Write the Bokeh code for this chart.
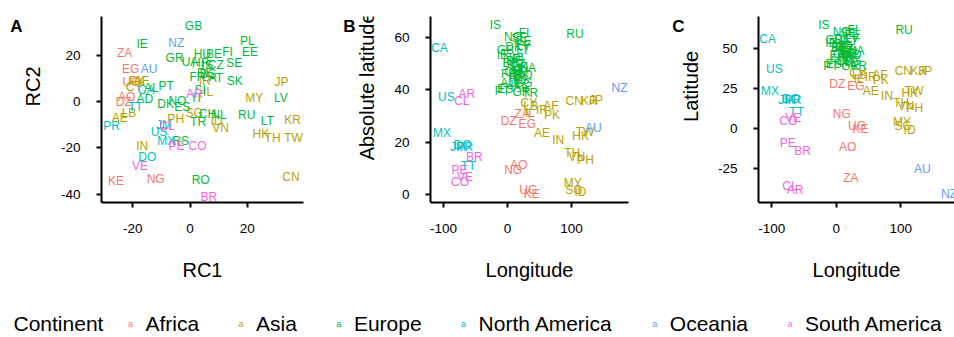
import numpy as np
from bokeh.plotting import figure
from bokeh.models import ColumnDataSource, FixedTicker, Range1d
from bokeh.layouts import row, column
from bokeh.embed import file_html
from bokeh.resources import INLINE
from bokeh.core.properties import value

# ---------------- data ----------------
codes = ["ZA", "EG", "UG", "AO", "DZ", "KE", "NG",
         "PK", "CY", "AF", "IR", "IL", "SG", "PH", "ID", "VN", "MY", "JP", "KR", "HK", "TH", "TW", "CN", "IN", "AE", "LB",
         "GB", "IE", "GR", "UA", "HU", "BE", "FI", "PL", "EE", "SE", "HR", "CZ", "IS", "FR", "DE", "BG", "AT", "SK",
         "AL", "PT", "SI", "IT", "AD", "DK", "NO", "ES", "CH", "NL", "TR", "RU", "LT", "LV", "RS", "RO",
         "CA", "TT", "PR", "JM", "US", "MX", "DO",
         "NZ", "AU",
         "AR", "CL", "PE", "CO", "VE", "BR"]
continent = (["Africa"] * 7 + ["Asia"] * 19 + ["Europe"] * 34 + ["North America"] * 7
             + ["Oceania"] * 2 + ["South America"] * 6)
rc1 = [-22.8, -20.7, -20.4, -22.1, -23.1, -25.8, -12.0,
       -18.4, -19.5, -17.0, 5.1, 6.3, 1.4, -5.0, 9.3, 10.7, 22.4, 31.9, 35.8, 24.7, 28.8, 36.1, 35.2, -16.7, -24.5, -21.3,
       1.2, -16.7, -5.4, 0.0, 4.3, 8.4, 13.1, 20.0, 20.9, 15.4, 3.7, 9.0, 6.0, 2.6, 5.3, 6.3, 9.0, 15.6,
       -13.5, -8.3, 3.5, 2.6, -15.8, -8.5, -4.4, -2.7, 6.1, 10.1, 2.8, 19.8, 27.0, 31.7, -3.3, 3.7,
       -15.3, -19.0, -27.4, -9.1, -10.8, -8.3, -14.9,
       -4.8, -14.3,
       1.6, -8.0, -4.7, 2.6, -17.5, 6.6]
rc2 = [21.0, 13.9, 8.6, 2.1, 0.0, -34.3, -33.3,
       8.9, 6.5, 9.0, 8.9, 4.3, -4.7, -7.6, -8.3, -11.4, 1.4, 8.4, -7.9, -14.0, -15.9, -15.9, -32.6, -19.0, -6.9, -5.1,
       32.4, 24.9, 18.9, 17.1, 20.6, 20.6, 21.3, 26.0, 21.4, 16.6, 16.6, 16.0, 15.8, 10.6, 12.3, 12.0, 10.3, 9.1,
       5.8, 6.7, 4.9, 1.7, 1.3, -1.1, 0.3, -2.3, -5.4, -5.7, -8.6, -5.9, -8.3, 1.4, -16.9, -34.0,
       5.0, -2.3, -10.7, -10.0, -13.3, -16.9, -24.0,
       25.4, 13.9,
       3.1, -10.5, -19.0, -19.3, -27.9, -41.1]
longitude = [22.9, 30.8, 32.3, 17.9, 1.7, 37.9, 8.7,
             69.3, 33.4, 67.7, 53.7, 34.9, 103.8, 121.8, 113.9, 108.3, 102.0, 138.3, 127.8, 114.1, 101.0, 121.0, 104.2, 79.0, 53.8, 35.9,
             -3.4, -8.2, 21.8, 31.2, 19.5, 4.5, 25.7, 19.1, 25.0, 18.6, 15.2, 15.5, -19.0, 2.2, 10.5, 25.5, 14.6, 19.7,
             20.2, -8.2, 15.0, 12.6, 1.6, 9.5, 8.5, -3.7, 8.2, 5.3, 35.2, 105.3, 23.9, 24.6, 21.0, 25.0,
             -106.3, -61.2, -66.6, -77.3, -95.7, -102.6, -70.2,
             174.9, 133.8,
             -63.6, -71.5, -75.0, -74.3, -66.6, -51.9]
latitude = [-30.6, 26.8, 1.4, -11.2, 28.0, 0.0, 9.1,
            30.4, 35.1, 33.9, 32.4, 31.0, 1.4, 12.9, -0.8, 14.1, 4.2, 36.2, 35.9, 22.4, 15.9, 23.7, 35.9, 20.6, 23.4, 33.9,
            55.4, 53.4, 39.1, 48.4, 47.2, 50.5, 61.9, 51.9, 58.6, 60.1, 45.1, 49.8, 65.0, 46.2, 51.2, 42.7, 47.5, 48.7,
            41.2, 39.4, 46.2, 41.9, 42.5, 56.3, 60.5, 40.5, 46.8, 52.1, 39.0, 61.5, 55.2, 56.9, 44.0, 45.9,
            56.1, 10.7, 18.2, 18.1, 37.1, 23.6, 18.7,
            -40.9, -25.3,
            -38.4, -35.7, -9.2, 4.6, 6.4, -14.2]

continents = ["Africa", "Asia", "Europe", "North America", "Oceania", "South America"]
palette = ["#F8766D", "#B79F00", "#00BA38", "#00BFC4", "#619CFF", "#F564E3"]
panel_letters = ["A", "B", "C"]
y_titles = ["RC2", "Absolute latitude", "Latitude"]

# ---------------- helpers ----------------
FONT = "Liberation Sans"
cmap = dict(zip(continents, palette))
src = ColumnDataSource(dict(
    code=codes, cont=continent, rc1=rc1, rc2=rc2, lon=longitude, lat=latitude,
    abslat=list(np.abs(np.array(latitude))),
    color=[cmap[c] for c in continent]))

FIG_H = 290
FRAME_TOP = 16
FRAME_BOTTOM = 88


def blank(width, height):
    f = figure(width=width, height=height, x_range=Range1d(0, width), y_range=Range1d(0, height),
               output_backend="svg", toolbar_location=None,
               min_border_left=0, min_border_right=0, min_border_top=0, min_border_bottom=0)
    f.axis.visible = False
    f.grid.visible = False
    f.outline_line_color = None
    return f


def strip(letter, ytitle, width, letter_cx, title_cx):
    """Left strip holding the panel letter and the y-axis title."""
    f = blank(width, FIG_H)
    f.text(x=[letter_cx], y=[FIG_H - FRAME_TOP], text=[letter], text_font=value(FONT),
           text_font_size="17px", text_font_style="bold", text_color="black",
           text_align="center", text_baseline="middle")
    frame_mid = FRAME_BOTTOM + (FIG_H - FRAME_TOP - FRAME_BOTTOM) / 2
    f.text(x=[title_cx], y=[frame_mid], text=[ytitle], angle=np.pi / 2, text_font=value(FONT),
           text_font_size="20px", text_color="black",
           text_align="center", text_baseline="middle")
    return f


def panel(xcol, ycol, xr, yr, xticks, yticks, xlabel, width, bl, br):
    p = figure(width=width, height=FIG_H, x_range=Range1d(*xr), y_range=Range1d(*yr),
               output_backend="svg", toolbar_location=None,
               min_border_left=bl, min_border_right=br,
               min_border_top=FRAME_TOP, min_border_bottom=FRAME_BOTTOM)
    p.grid.visible = False
    p.outline_line_color = None
    p.background_fill_color = "white"
    p.border_fill_color = "white"
    p.xaxis.ticker = FixedTicker(ticks=xticks)
    p.yaxis.ticker = FixedTicker(ticks=yticks)
    p.xaxis.major_label_overrides = {t: str(t) for t in xticks}
    p.yaxis.major_label_overrides = {t: str(t) for t in yticks}
    p.xaxis.axis_label = xlabel
    for ax in (p.xaxis, p.yaxis):
        ax.axis_line_width = 2
        ax.axis_line_color = "black"
        ax.major_tick_line_width = 2
        ax.major_tick_line_color = "black"
        ax.major_tick_out = 5
        ax.major_tick_in = 0
        ax.minor_tick_line_color = None
        ax.major_label_text_font = FONT
        ax.major_label_text_font_size = "13.5px"
        ax.major_label_text_color = "black"
        ax.axis_label_text_font = FONT
        ax.axis_label_text_font_size = "20px"
        ax.axis_label_text_font_style = "normal"
        ax.axis_label_text_color = "black"
    p.xaxis.major_label_standoff = 16
    p.yaxis.major_label_standoff = 16
    p.xaxis.axis_label_standoff = 23

    p.text(x=xcol, y=ycol, text="code", source=src, text_color="color",
           text_font=value(FONT), text_font_size="12px",
           text_align="center", text_baseline="middle")
    return p


sA = strip(panel_letters[0], y_titles[0], 55, 16, 32)
pA = panel("rc1", "rc2", (-30.9, 39.6), (-43.5, 36.7), [-20, 0, 20], [-40, -20, 0, 20],
           "RC1", 275, 46, 27)
sB = strip(panel_letters[1], y_titles[1], 55, 19, 36)
pB = panel("lon", "abslat", (-120.4, 188.9), (-3.23, 68.2), [-100, 0, 100], [0, 20, 40, 60],
           "Longitude", 272, 45, 29)
sC = strip(panel_letters[2], y_titles[2], 51, 21, 33)
pC = panel("lon", "lat", (-120.4, 183.5), (-46.2, 70.25), [-100, 0, 100], [-25, 0, 25, 50],
           "Longitude", 246, 50, 0)

# ---------------- legend ----------------
ARIAL = {"C": 722, "o": 556, "n": 556, "t": 278, "i": 222, "e": 556, "A": 667, "f": 278, "r": 333,
         "c": 500, "a": 556, "s": 500, "E": 667, "u": 556, "p": 556, "N": 722, "h": 556, " ": 278,
         "m": 833, "O": 778, "S": 667}
LEG_FS = 21


def tw(s, fs=LEG_FS):
    return sum(ARIAL.get(ch, 556) for ch in s) / 1000.0 * fs


LEG_W, LEG_H = 954, 47
leg = blank(LEG_W, LEG_H)

ly = 14
x = 13
title_x = [x]
x += tw("Continent") + 27
key_x, lab_x = [], []
for c in continents:
    key_x.append(x)
    lab_x.append(x + 15)
    x = x + 15 + tw(c) + 42

leg.text(x=title_x, y=[ly], text=["Continent"], text_font=value(FONT),
         text_font_size=f"{LEG_FS}px", text_align="left", text_baseline="middle", text_color="black")
leg.text(x=key_x, y=[ly] * 6, text=["a"] * 6, text_font=value(FONT), text_font_size="9px",
         text_align="center", text_baseline="middle", text_color=palette)
leg.text(x=lab_x, y=[ly] * 6, text=continents, text_font=value(FONT),
         text_font_size=f"{LEG_FS}px", text_align="left", text_baseline="middle", text_color="black")

layout = column(row(sA, pA, sB, pB, sC, pC), leg)
open("out.html", "w").write(file_html(layout, INLINE))
